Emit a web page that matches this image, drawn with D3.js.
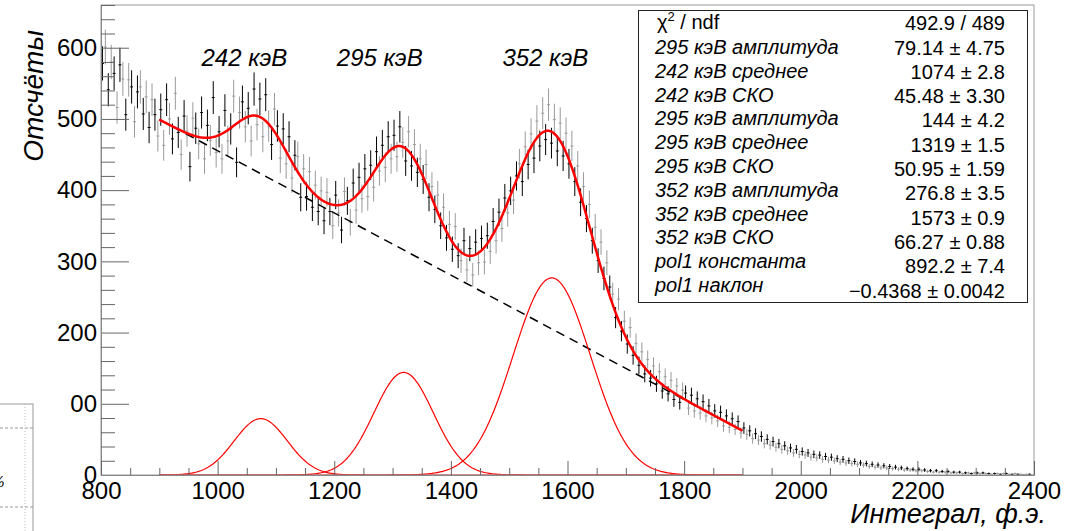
<!DOCTYPE html>
<html>
<head>
<meta charset="utf-8">
<script src="https://cdn.jsdelivr.net/npm/d3@7"></script>
<style>
  body { margin: 0; background: #fff; }
  svg { display: block; font-family: "Liberation Sans", Arial, sans-serif; }
</style>
</head>
<body>
<div id="chart"></div>
<script>
// histogram: 5-unit bins starting at 800, counts
var binStart = 800, binWidth = 5;
var counts800 = [578, 601, 541, 580, 564, 516, 576, 556, 506, 555, 545, 496, 538, 545, 507, 531, 488, 527, 506, 476];
var counts900 = [
  513, 463, 527, 500, 472, 536, 481, 450, 504, 483,
  433, 501, 487, 465, 509, 444, 491, 470, 530, 453,
  482, 444, 512, 469, 486, 532, 439, 509, 524, 489,
  515, 469, 542, 492, 528, 475, 534, 490, 464, 514,
  490, 445, 486, 437, 475, 417, 449, 447, 390, 430,
  391, 426, 376, 407, 370, 399, 357, 397, 370, 350,
  393, 368, 344, 398, 385, 355, 410, 372, 418, 388,
  430, 391, 435, 404, 454, 427, 463, 432, 475, 444,
  477, 447, 489, 467, 441, 482, 434, 464, 425, 444,
  415, 436, 390, 405, 373, 393, 350, 376, 333, 352
];
var counts1400 = [
  317, 349, 308, 301, 329, 288, 318, 281, 327, 298,
  332, 299, 336, 314, 356, 329, 369, 346, 389, 368,
  399, 386, 420, 437, 412, 461, 436, 479, 445, 497,
  462, 508, 471, 520, 466, 499, 455, 494, 448, 480,
  437, 462, 412, 434, 383, 405, 360, 380, 329, 348,
  301, 327, 276, 298, 264, 254, 221, 247, 202, 216,
  184, 207, 168, 185, 154, 173, 142, 162, 136, 153,
  128, 145, 118, 138, 114, 133, 106, 125, 102, 119,
  115, 94, 112, 90, 107, 87, 103, 83, 97, 80,
  90, 76, 88, 69, 83, 67, 79, 64, 75, 59
];
var counts1900 = [
  66, 57, 62, 51, 58, 49, 54, 44, 50, 42,
  47, 39, 44, 36, 41, 34, 38, 31, 36, 29,
  33, 28, 31, 25, 29, 24, 28, 22, 26, 21,
  25, 20, 23, 18, 22, 17, 20, 16, 19, 15,
  17, 14, 16, 12, 15, 11, 14, 10, 13, 10,
  12, 9, 11, 8, 10, 7, 9, 7, 8, 6,
  8, 6, 7, 5, 6, 4, 6, 4, 5, 4,
  5, 3, 4, 3, 4, 2, 3, 3, 2, 3,
  3, 2, 3, 2, 2, 1, 2, 2, 1, 2,
  2, 1, 1, 2, 1, 1, 0, 1, 1, 0
];

// fit parameters (from the stats box)
var fitRange = [900, 1900];
var gausAmp = [79.14, 144, 276.8];
var gausMean = [1074, 1319, 1573];
var gausSigma = [45.48, 50.95, 66.27];
var pol1 = [892.2, -0.4368];

var statLabels = ["295 кэВ амплитуда", "242 кэВ среднее", "242 кэВ СКО",
  "295 кэВ амплитуда", "295 кэВ среднее", "295 кэВ СКО",
  "352 кэВ амплитуда", "352 кэВ среднее", "352 кэВ СКО",
  "pol1 константа", "pol1 наклон"];
var statValues = ["79.14 ± 4.75", "1074 ± 2.8", "45.48 ± 3.30",
  "144 ± 4.2", "1319 ± 1.5", "50.95 ± 1.59",
  "276.8 ± 3.5", "1573 ± 0.9", "66.27 ± 0.88",
  "892.2 ± 7.4", "−0.4368 ± 0.0042"];
var chi2Text = "492.9 / 489";

var peakLabels = ["242 кэВ", "295 кэВ", "352 кэВ"];
var peakLabelX = [1046, 1278, 1562];

var xTicks = [800, 1000, 1200, 1400, 1600, 1800, 2000, 2200, 2400];
var yTicks = [0, 100, 200, 300, 400, 500, 600];
var yTickLabels = ["0", "00", "200", "300", "400", "500", "600"];

var width = 1070, height = 531;
var svg = d3.select("#chart").append("svg")
    .attr("width", width)
    .attr("height", height);

var x = d3.scaleLinear().domain([800, 2400]).range([101, 1034]);
var y = d3.scaleLinear().domain([0, 660]).range([475, 5]);

// leftover piece of a neighbouring picture (bottom-left corner)
var inset = svg.append("g");
inset.append("rect").attr("x", -2).attr("y", 404).attr("width", 35).attr("height", 140)
    .attr("fill", "#fff").attr("stroke", "#999");
inset.append("line").attr("x1", 0).attr("x2", 33).attr("y1", 428).attr("y2", 428)
    .attr("stroke", "#999").attr("stroke-dasharray", "3,2");
inset.append("line").attr("x1", 0).attr("x2", 33).attr("y1", 507).attr("y2", 507)
    .attr("stroke", "#999").attr("stroke-dasharray", "3,2");
inset.append("line").attr("x1", 25).attr("x2", 25).attr("y1", 404).attr("y2", 531)
    .attr("stroke", "#bbb").attr("stroke-dasharray", "1,2");
inset.append("text").attr("x", 5).attr("y", 487).attr("text-anchor", "end")
    .style("font-family", "DejaVu Serif").style("font-style", "italic")
    .style("font-size", "15px").text("%");

// histogram
var counts = counts800.concat(counts900, counts1400, counts1900);
var bins = counts.map(function(c, i) {
    return { lo: binStart + i * binWidth, hi: binStart + (i + 1) * binWidth, value: c };
});

var hist = svg.append("g");
bins.forEach(function(d, i) {
    var col = i % 2 === 0 ? "#000" : "#9a9a9a";
    var err = Math.sqrt(d.value);
    var cx = x((d.lo + d.hi) / 2);
    hist.append("line")
        .attr("x1", cx).attr("x2", cx)
        .attr("y1", y(Math.max(0, d.value - err))).attr("y2", y(d.value + err))
        .attr("stroke", col).attr("stroke-width", 1);
    hist.append("line")
        .attr("x1", x(d.lo)).attr("x2", x(d.hi))
        .attr("y1", y(d.value)).attr("y2", y(d.value))
        .attr("stroke", col).attr("stroke-width", 1);
});

// fit functions
function gaus(k, t) {
    var z = (t - gausMean[k]) / gausSigma[k];
    return gausAmp[k] * Math.exp(-0.5 * z * z);
}
function line1(t) { return pol1[0] + pol1[1] * t; }
function total(t) { return line1(t) + gaus(0, t) + gaus(1, t) + gaus(2, t); }

var xs = d3.range(fitRange[0], fitRange[1] + 0.1, 2);

svg.append("path")
    .datum(fitRange)
    .attr("fill", "none")
    .attr("stroke", "#000")
    .attr("stroke-width", 1.5)
    .attr("stroke-dasharray", "9,6")
    .attr("d", d3.line().x(function(t) { return x(t); }).y(function(t) { return y(line1(t)); }));

[0, 1, 2].forEach(function(k) {
    svg.append("path")
        .datum(xs)
        .attr("fill", "none")
        .attr("stroke", "#ff0000")
        .attr("stroke-width", 1.2)
        .attr("d", d3.line().x(function(t) { return x(t); }).y(function(t) { return y(gaus(k, t)); }));
});

svg.append("path")
    .datum(xs)
    .attr("fill", "none")
    .attr("stroke", "#ff0000")
    .attr("stroke-width", 2.5)
    .attr("d", d3.line().x(function(t) { return x(t); }).y(function(t) { return y(total(t)); }));

// frame
svg.append("rect")
    .attr("x", x(800)).attr("y", y(660))
    .attr("width", x(2400) - x(800)).attr("height", y(0) - y(660))
    .attr("fill", "none").attr("stroke", "#999").attr("stroke-width", 1);

// axes
var yAxis = svg.append("g")
    .attr("transform", "translate(" + x(800) + ",0)")
    .call(d3.axisLeft(y).tickValues(yTicks).tickSizeInner(-28).tickSizeOuter(0).tickPadding(4)
        .tickFormat(function(d, i) { return yTickLabels[i]; }));
var yMinor = svg.append("g")
    .attr("transform", "translate(" + x(800) + ",0)")
    .call(d3.axisLeft(y).tickValues(d3.range(0, 661, 20).filter(function(v) { return v % 100 !== 0; }))
        .tickSizeInner(-14).tickSizeOuter(0).tickFormat(""));

var xAxis = svg.append("g")
    .attr("transform", "translate(0," + y(0) + ")")
    .call(d3.axisBottom(x).tickValues(xTicks).tickSizeInner(-14).tickSizeOuter(0).tickPadding(7)
        .tickFormat(d3.format("d")));
var xMinor = svg.append("g")
    .attr("transform", "translate(0," + y(0) + ")")
    .call(d3.axisBottom(x).tickValues(d3.range(850, 2400, 50).filter(function(v) { return v % 200 !== 0; }))
        .tickSizeInner(-7).tickSizeOuter(0).tickFormat(""));

[yAxis, yMinor, xAxis, xMinor].forEach(function(g) {
    g.select(".domain").attr("stroke", "#888");
    g.selectAll(".tick line").attr("stroke", "#666");
    g.selectAll("text")
        .style("font-family", "Liberation Sans, Arial, sans-serif")
        .style("font-size", "24px")
        .attr("fill", "#000");
});

// axis titles
svg.append("text")
    .attr("transform", "translate(43,30) rotate(-90)")
    .attr("text-anchor", "end")
    .style("font-style", "italic")
    .style("font-size", "28px")
    .text("Отсчёты");

svg.append("text")
    .attr("x", 1046)
    .attr("y", 523)
    .attr("text-anchor", "end")
    .style("font-style", "italic")
    .style("font-size", "27px")
    .text("Интеграл, ф.э.");

// peak labels
svg.selectAll(".peak")
    .data(peakLabels)
    .enter().append("text")
    .attr("class", "peak")
    .attr("x", function(d, i) { return x(peakLabelX[i]); })
    .attr("y", 66)
    .attr("text-anchor", "middle")
    .style("font-style", "italic")
    .style("font-size", "24px")
    .text(function(d) { return d; });

// stats box
var box = svg.append("g");
box.append("rect")
    .attr("x", 638.5).attr("y", 10.5)
    .attr("width", 389).attr("height", 292)
    .attr("fill", "#fff").attr("stroke", "#222").attr("stroke-width", 1);

var chiLabel = box.append("text")
    .attr("x", 657).attr("y", 29)
    .style("font-size", "20px");
chiLabel.append("tspan").text("χ");
chiLabel.append("tspan").attr("dy", -8).style("font-size", "13px").text("2");
chiLabel.append("tspan").attr("dy", 8).text(" / ndf");

box.append("text")
    .attr("x", 1005).attr("y", 30)
    .attr("text-anchor", "end")
    .style("font-size", "20px")
    .text(chi2Text);

box.selectAll(".slab")
    .data(statLabels)
    .enter().append("text")
    .attr("class", "slab")
    .attr("x", 655)
    .attr("y", function(d, i) { return 54 + i * 23.8; })
    .style("font-style", "italic")
    .style("font-size", "20px")
    .text(function(d) { return d; });

box.selectAll(".sval")
    .data(statValues)
    .enter().append("text")
    .attr("class", "sval")
    .attr("x", 1005)
    .attr("y", function(d, i) { return 54.5 + i * 24.3; })
    .attr("text-anchor", "end")
    .style("font-size", "20px")
    .text(function(d) { return d; });
</script>
</body>
</html>
